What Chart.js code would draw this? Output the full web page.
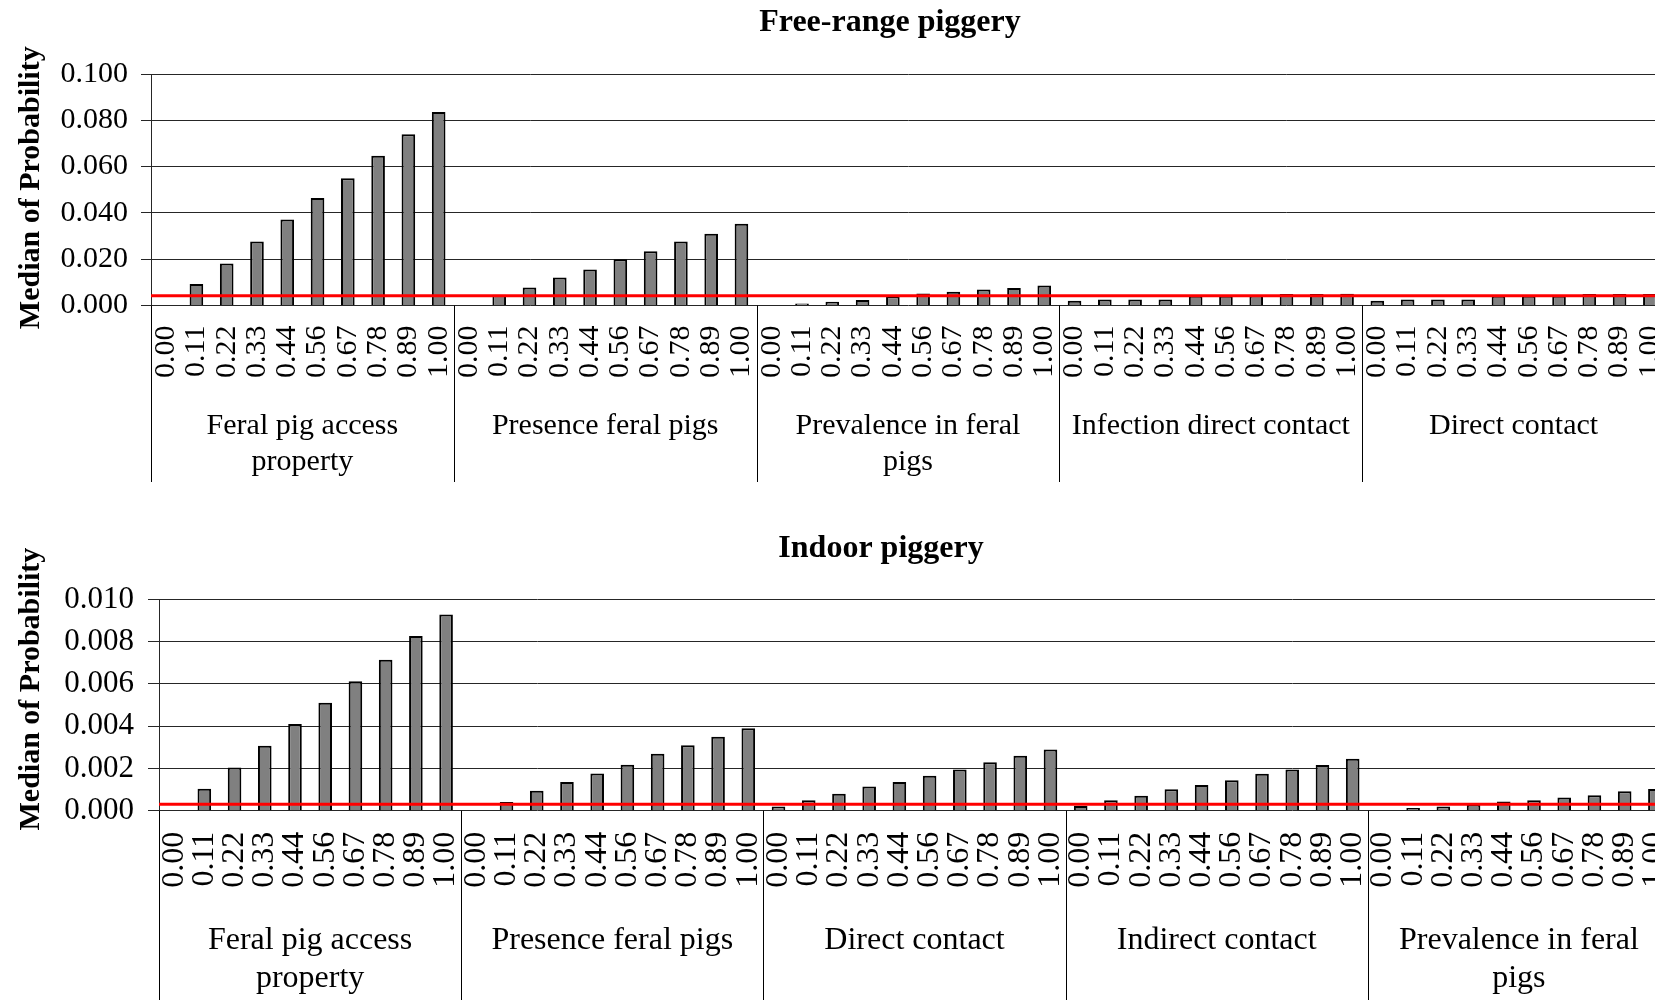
<!DOCTYPE html>
<html>
<head>
<meta charset="utf-8">
<title>Median of probability by input level</title>
<script src="https://cdn.jsdelivr.net/npm/chart.js@4.4.1/dist/chart.umd.min.js"></script>
<style>
  html, body { margin: 0; padding: 0; background: #ffffff; }
  body { width: 1655px; height: 1000px; overflow: hidden; position: relative; }
  #freeRange { position: absolute; left: 0; top: 0; }
  #indoor { position: absolute; left: 0; top: 500px; }
</style>
</head>
<body>
<canvas id="freeRange" width="1780" height="490"></canvas>
<canvas id="indoor" width="1762" height="520"></canvas>
<script>
// Input levels shown under every parameter group
const levelLabels = ['0.00', '0.11', '0.22', '0.33', '0.44', '0.56', '0.67', '0.78', '0.89', '1.00'];

// ---- Free-range piggery ----
const freeRangeGroups = [
  ['Feral pig access', 'property'],
  ['Presence feral pigs'],
  ['Prevalence in feral', 'pigs'],
  ['Infection direct contact'],
  ['Direct contact']
];
const freeRangeFeralAccess   = [0, 0.0093, 0.0181, 0.0276, 0.0371, 0.0464, 0.0550, 0.0647, 0.0740, 0.0836];
const freeRangePresence      = [0, 0.0046, 0.0078, 0.0121, 0.0155, 0.0200, 0.0234, 0.0276, 0.0310, 0.0353];
const freeRangePrevalence    = [0, 0.0009, 0.0016, 0.0024, 0.0040, 0.0052, 0.0059, 0.0069, 0.0076, 0.0086];
const freeRangeInfectDirect  = [0.0020, 0.0026, 0.0026, 0.0026, 0.0042, 0.0042, 0.0043, 0.0050, 0.0050, 0.0051];
const freeRangeDirectContact = [0.0020, 0.0026, 0.0026, 0.0026, 0.0042, 0.0042, 0.0042, 0.0050, 0.0050, 0.0050];
const freeRangeBaseline = 0.0042;

// ---- Indoor piggery ----
const indoorGroups = [
  ['Feral pig access', 'property'],
  ['Presence feral pigs'],
  ['Direct contact'],
  ['Indirect contact'],
  ['Prevalence in feral', 'pigs']
];
const indoorFeralAccess    = [0, 0.00104, 0.00204, 0.00307, 0.00410, 0.00511, 0.00613, 0.00715, 0.00827, 0.00929];
const indoorPresence       = [0, 0.00041, 0.00094, 0.00136, 0.00176, 0.00218, 0.00270, 0.00310, 0.00350, 0.00390];
const indoorDirectContact  = [0.00020, 0.00050, 0.00080, 0.00114, 0.00136, 0.00165, 0.00195, 0.00229, 0.00260, 0.00290];
const indoorIndirect       = [0.00022, 0.00049, 0.00071, 0.00102, 0.00122, 0.00144, 0.00175, 0.00195, 0.00216, 0.00246];
const indoorPrevalence     = [0, 0.00013, 0.00020, 0.00029, 0.00043, 0.00050, 0.00063, 0.00073, 0.00092, 0.00103];
const indoorBaseline = 0.0003;

const yAxisTitle = 'Median of Probability';

const SERIF = "'Liberation Serif', 'Times New Roman', serif";
Chart.defaults.font.family = SERIF;
Chart.defaults.color = '#000000';

// Draws the chart title, the y-axis title, the horizontal baseline,
// the group separators and the group names
const groupAxisPlugin = {
  id: 'groupAxis',
  afterDatasetsDraw(chart, args, opts) {
    const ctx = chart.ctx;
    const area = chart.chartArea;
    const y = chart.scales.y.getPixelForValue(opts.baseline);
    ctx.save();
    ctx.strokeStyle = '#ff0000';
    ctx.lineWidth = 3;
    ctx.beginPath();
    ctx.moveTo(area.left, y);
    ctx.lineTo(area.right, y);
    ctx.stroke();
    ctx.restore();
  },
  afterDraw(chart, args, opts) {
    const ctx = chart.ctx;
    const area = chart.chartArea;
    const xs = chart.scales.x;
    const n = opts.levels;
    const groups = opts.groups;
    ctx.save();

    // chart title, centred on the full chart object
    ctx.fillStyle = '#000000';
    ctx.font = 'bold 32px ' + SERIF;
    ctx.textAlign = 'center';
    ctx.textBaseline = 'middle';
    ctx.fillText(opts.title, chart.width / 2, opts.titleY);

    // vertical axis title
    ctx.save();
    ctx.font = 'bold 30px ' + SERIF;
    ctx.translate(31, (area.top + area.bottom) / 2 + opts.yTitleShift);
    ctx.rotate(-Math.PI / 2);
    ctx.fillText(yAxisTitle, 0, 0);
    ctx.restore();

    // separators between parameter groups
    ctx.strokeStyle = '#000000';
    ctx.lineWidth = 1;
    for (let g = 0; g <= groups.length; g++) {
      let px;
      if (g === 0) px = area.left;
      else if (g === groups.length) px = area.right;
      else px = (xs.getPixelForValue(g * n - 1) + xs.getPixelForValue(g * n)) / 2;
      px = Math.round(px) + 0.5;
      ctx.beginPath();
      ctx.moveTo(px, area.bottom);
      ctx.lineTo(px, xs.bottom);
      ctx.stroke();
    }

    // parameter group names
    ctx.font = opts.fontSize + 'px ' + SERIF;
    ctx.textBaseline = 'alphabetic';
    groups.forEach((lines, g) => {
      const cx = (xs.getPixelForValue(g * n) + xs.getPixelForValue(g * n + n - 1)) / 2;
      lines.forEach((t, k) => {
        ctx.fillText(t, cx, area.bottom + opts.firstBaseline + k * opts.lineHeight);
      });
    });
    ctx.restore();
  }
};

function buildChart(id, spec) {
  const labels = [];
  const values = [];
  spec.series.forEach(arr => {
    levelLabels.forEach(l => labels.push(l));
    arr.forEach(v => values.push(v));
  });
  return new Chart(document.getElementById(id), {
    type: 'bar',
    data: {
      labels: labels,
      datasets: [{
        data: values,
        backgroundColor: '#808080',
        borderColor: '#000000',
        borderWidth: 2,
        barPercentage: 0.45,
        categoryPercentage: 1.0
      }]
    },
    plugins: [groupAxisPlugin],
    options: {
      responsive: false,
      animation: false,
      devicePixelRatio: 1,
      layout: { padding: { left: 0, right: spec.padRight, top: spec.padTop, bottom: spec.padBottom } },
      plugins: {
        legend: { display: false },
        tooltip: { enabled: false },
        title: { display: false },
        groupAxis: {
          title: spec.title,
          titleY: spec.titleY,
          yTitleShift: spec.yTitleShift,
          groups: spec.groups,
          levels: levelLabels.length,
          baseline: spec.baseline,
          fontSize: spec.groupFont,
          firstBaseline: spec.groupFirstBaseline,
          lineHeight: spec.groupLineHeight
        }
      },
      scales: {
        x: {
          type: 'category',
          offset: true,
          grid: { display: false, drawTicks: false },
          border: { display: false },
          ticks: {
            autoSkip: false,
            minRotation: 90,
            maxRotation: 90,
            padding: spec.xTickPad,
            color: '#000000',
            font: { size: spec.xTickFont, family: SERIF }
          },
          afterFit: (scale) => { scale.height = spec.xAxisHeight; }
        },
        y: {
          min: 0,
          max: spec.yMax,
          ticks: {
            stepSize: spec.yStep,
            padding: spec.yTickPad,
            color: '#000000',
            font: { size: spec.yTickFont, family: SERIF },
            callback: (v) => Number(v).toFixed(3)
          },
          grid: { color: '#262626', lineWidth: 1, tickLength: spec.yTickLen, drawTicks: true },
          border: { display: true, color: '#262626', width: 1 },
          title: { display: false },
          afterFit: (scale) => { scale.width = spec.yAxisWidth; }
        }
      }
    }
  });
}

buildChart('freeRange', {
  title: 'Free-range piggery',
  titleY: 23,
  yTitleShift: -2,
  groups: freeRangeGroups,
  series: [freeRangeFeralAccess, freeRangePresence, freeRangePrevalence, freeRangeInfectDirect, freeRangeDirectContact],
  baseline: freeRangeBaseline,
  yMax: 0.1, yStep: 0.02,
  padRight: 115, padTop: 74, padBottom: 8,
  xAxisHeight: 176.5, yAxisWidth: 151,
  xTickFont: 30, xTickPad: 20,
  yTickFont: 30, yTickPad: 13, yTickLen: 10,
  groupFont: 30, groupFirstBaseline: 128.5, groupLineHeight: 36
});

buildChart('indoor', {
  title: 'Indoor piggery',
  titleY: 49,
  yTitleShift: -16,
  groups: indoorGroups,
  series: [indoorFeralAccess, indoorPresence, indoorDirectContact, indoorIndirect, indoorPrevalence],
  baseline: indoorBaseline,
  yMax: 0.01, yStep: 0.002,
  padRight: 92, padTop: 99.5, padBottom: 0,
  xAxisHeight: 209.3, yAxisWidth: 159,
  xTickFont: 32, xTickPad: 21,
  yTickFont: 31, yTickPad: 14, yTickLen: 11,
  groupFont: 32, groupFirstBaseline: 138, groupLineHeight: 38
});
</script>
</body>
</html>
